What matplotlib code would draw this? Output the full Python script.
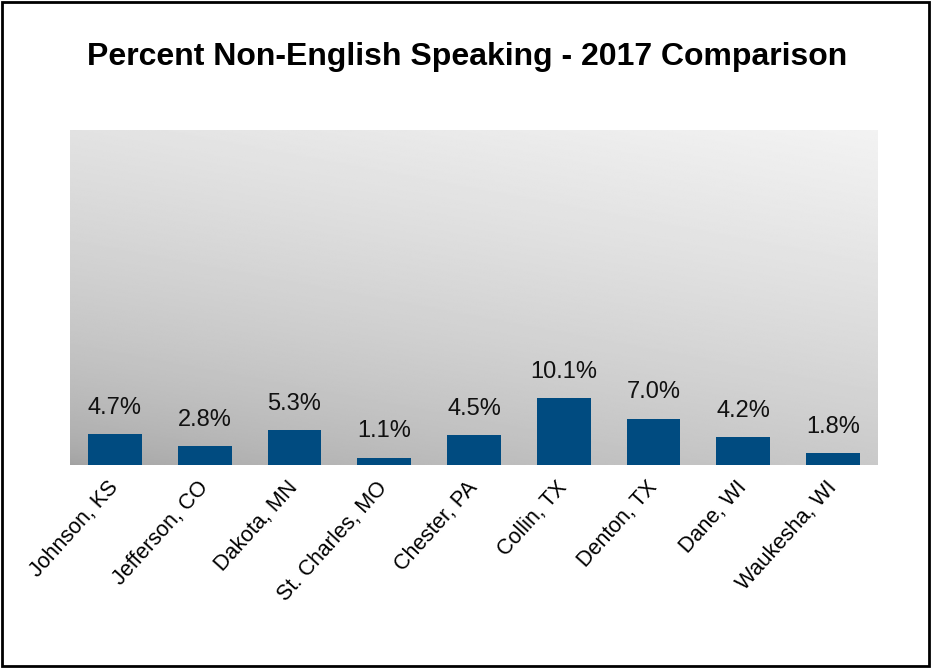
import numpy as np
import matplotlib
matplotlib.use("Agg")
import matplotlib.pyplot as plt
from matplotlib.patches import Rectangle

plt.rcParams['font.family'] = ['Liberation Sans', 'DejaVu Sans']

counties = ["Johnson, KS", "Jefferson, CO", "Dakota, MN", "St. Charles, MO",
            "Chester, PA", "Collin, TX", "Denton, TX", "Dane, WI", "Waukesha, WI"]
pct_non_english = [4.7, 2.8, 5.3, 1.1, 4.5, 10.1, 7.0, 4.2, 1.8]

fig = plt.figure(figsize=(9.35, 6.68), dpi=100)
ax = fig.add_axes([70 / 935, 1 - 465 / 668, 808 / 935, 335 / 668])

# diagonal gray gradient behind the bars
n = 256
gx, gy = np.meshgrid(np.linspace(0, 1, n), np.linspace(0, 1, n))
t = np.clip((gx * 0.45 + gy * 1.0) / 1.45, 0, 1)
grad = 0.63 + (0.95 - 0.63) * (t ** 0.6)
ax.imshow(grad, cmap='gray', vmin=0, vmax=1, origin='lower',
          extent=[-0.5, len(counties) - 0.5, 0, 50.5], aspect='auto',
          zorder=0, interpolation='bilinear')

x = np.arange(len(counties))
bars = ax.bar(x, pct_non_english, width=0.6, color='#004b80', zorder=2)
for xi, v in zip(x, pct_non_english):
    ax.annotate(f"{v:.1f}%", (xi, v), xytext=(0, 11), textcoords='offset points',
                ha='center', va='bottom', fontsize=17, color='#111111')

ax.set_xlim(-0.5, len(counties) - 0.5)
ax.set_ylim(0, 50.5)
ax.set_yticks([])
ax.set_xticks(x)
ax.set_xticklabels(counties, rotation=48, ha='right', va='center',
                   rotation_mode='anchor', fontsize=15.5)
ax.tick_params(axis='x', length=0, pad=14)
for s in ax.spines.values():
    s.set_visible(False)

fig.text(0.5, 1 - 57 / 668, "Percent Non-English Speaking - 2017 Comparison",
         ha='center', va='center', fontsize=23, fontweight='bold')

fig.patches.append(Rectangle((2 / 935, 2 / 668), 927 / 935, 664 / 668,
                             transform=fig.transFigure, fill=False,
                             edgecolor='black', linewidth=2))

fig.savefig("out.png", dpi=100)
